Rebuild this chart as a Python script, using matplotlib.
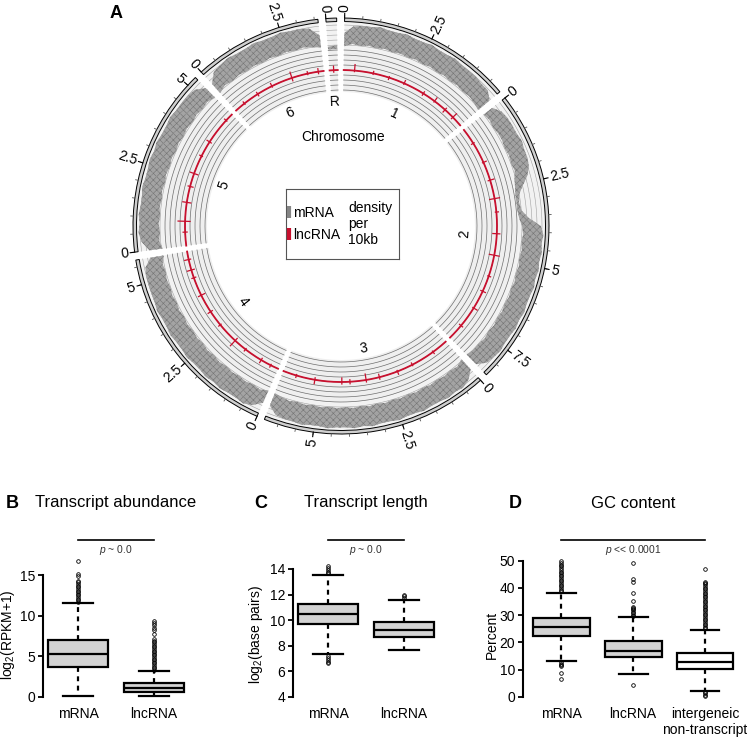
import numpy as np
import matplotlib.pyplot as plt
from matplotlib.lines import Line2D

plt.rcParams['font.family'] = ['Liberation Sans', 'DejaVu Sans']
plt.rcParams['mathtext.fontset'] = 'custom'
plt.rcParams['mathtext.rm'] = 'Liberation Sans'
plt.rcParams['mathtext.it'] = 'Liberation Sans:italic'
plt.rcParams['hatch.color'] = '#767676'
plt.rcParams['hatch.linewidth'] = 0.45

# ---------------- panel A: circos data ----------------
chrom_names = ['1', '2', '3', '4', '5', '6', 'R']
chrom_sizes = [4.9, 8.4, 6.4, 5.7, 5.3, 3.6, 0.3]   # Mb

# mRNA density envelope (0..1 of track height), bins along each chromosome
mrna_low = {
    '1': [0.1, 0.2, 0.15, 0.2, 0.15, 0.2, 0.15, 0.2, 0.15, 0.2, 0.15, 0.2, 0.15, 0.2, 0.15, 0.2, 0.15, 0.2, 0.15, 0.1],
    '2': [0.15, 0.2, 0.15, 0.2, 0.2, 0.15, 0.2, 0.15, 0.2, 0.1, 0.05, 0.0, 0.0, 0.0, 0.05, 0.15, 0.2, 0.15,
          0.2, 0.15, 0.2, 0.15, 0.2, 0.15, 0.2, 0.15, 0.2, 0.15, 0.2, 0.15, 0.2, 0.15, 0.15, 0.1],
    '3': [0.1, 0.2, 0.15, 0.2, 0.15, 0.2, 0.15, 0.2, 0.15, 0.2, 0.15, 0.2, 0.15, 0.2, 0.15, 0.2, 0.15, 0.2,
          0.15, 0.2, 0.15, 0.2, 0.15, 0.2, 0.15, 0.1],
    '4': [0.1, 0.2, 0.15, 0.2, 0.15, 0.2, 0.15, 0.2, 0.15, 0.2, 0.15, 0.2, 0.15, 0.2, 0.15, 0.2, 0.15, 0.2,
          0.15, 0.2, 0.15, 0.2, 0.1],
    '5': [0.1, 0.2, 0.15, 0.2, 0.15, 0.2, 0.15, 0.2, 0.15, 0.2, 0.15, 0.2, 0.15, 0.2, 0.15, 0.2, 0.15, 0.2,
          0.15, 0.2, 0.1],
    '6': [0.1, 0.2, 0.15, 0.2, 0.15, 0.2, 0.15, 0.2, 0.15, 0.2, 0.15, 0.2, 0.15, 0.1],
    'R': [0.0, 0.0],
}
mrna_high = {
    '1': [0.6, 0.85, 0.9, 0.9, 0.95, 0.9, 0.9, 0.95, 0.9, 0.9, 0.95, 0.9, 0.9, 0.95, 0.9, 0.9, 0.9, 0.85, 0.85, 0.65],
    '2': [0.55, 0.75, 0.8, 0.8, 0.8, 0.85, 0.8, 0.8, 0.75, 0.6, 0.35, 0.15, 0.1, 0.15, 0.4, 0.85, 0.95, 0.9,
          0.95, 0.9, 0.95, 0.9, 0.95, 0.9, 0.9, 0.95, 0.9, 0.95, 0.9, 0.9, 0.95, 0.9, 0.85, 0.6],
    '3': [0.6, 0.85, 0.95, 0.9, 0.95, 0.9, 0.9, 0.95, 0.9, 0.9, 0.95, 0.9, 0.9, 0.95, 0.9, 0.95, 0.9, 0.9,
          0.95, 0.9, 0.9, 0.95, 0.9, 0.9, 0.85, 0.6],
    '4': [0.6, 0.85, 0.95, 0.9, 0.9, 0.95, 0.9, 0.95, 0.9, 0.9, 0.95, 0.9, 0.9, 0.95, 0.9, 0.9, 0.95, 0.9,
          0.9, 0.9, 0.9, 0.85, 0.6],
    '5': [0.6, 0.85, 0.95, 0.9, 0.95, 0.9, 0.9, 0.95, 0.9, 0.9, 0.95, 0.9, 0.95, 0.9, 0.9, 0.95, 0.9, 0.9,
          0.9, 0.85, 0.6],
    '6': [0.55, 0.85, 0.9, 0.95, 0.9, 0.9, 0.95, 0.9, 0.9, 0.95, 0.9, 0.9, 0.85, 0.55],
    'R': [0.1, 0.15],
}

# lncRNA density: spikes (position Mb, inward px, outward px) on a flat line
lnc_spikes = {
    '1': [(0.4, 1, 6), (1.1, 1, 2), (1.7, 2, 1), (2.3, 1, 3), (3.1, 2, 2), (3.6, 1, 4), (4.1, 3, 2), (4.5, 2, 5)],
    '2': [(0.6, 2, 1), (1.4, 1, 3), (2.1, 2, 4), (2.8, 5, 5), (3.3, 1, 2), (4.1, 4, 3), (4.9, 5, 5), (5.7, 1, 2),
          (6.3, 2, 3), (7.0, 1, 4), (7.8, 2, 2)],
    '3': [(0.6, 1, 2), (1.5, 2, 1), (2.1, 1, 3), (2.8, 3, 2), (3.3, 6, 2), (3.9, 2, 2), (4.2, 4, 2), (5.2, 2, 4),
          (5.9, 1, 2)],
    '4': [(0.3, 1, 2), (0.7, 2, 3), (1.4, 1, 2), (1.9, 3, 7), (2.7, 1, 2), (3.3, 2, 3), (4.0, 4, 3), (4.7, 2, 2),
          (5.0, 3, 4), (5.4, 2, 4)],
    '5': [(0.5, 2, 2), (0.9, 5, 7), (1.6, 4, 4), (2.2, 3, 2), (2.7, 4, 4), (3.4, 1, 2), (4.0, 2, 3), (5.0, 1, 2)],
    '6': [(0.4, 1, 2), (1.0, 2, 2), (1.6, 1, 3), (2.4, 3, 6), (3.0, 1, 2), (3.4, 2, 3)],
    'R': [(0.15, 2, 4)],
}

# ---------------- panels B-D: box statistics ----------------
abund_labels = ['mRNA', 'lncRNA']
abund_stats = [
    dict(med=5.27, q1=3.7, q3=6.95, whislo=0.1, whishi=11.55,
         fliers=[11.7, 11.9, 12.1, 12.3, 12.5, 12.7, 12.9, 13.1, 13.3, 13.5, 13.7, 13.9, 14.1, 14.3, 14.9, 15.2, 16.7]),
    dict(med=1.03, q1=0.54, q3=1.65, whislo=0.12, whishi=3.17,
         fliers=[3.3, 3.5, 3.7, 3.9, 4.1, 4.3, 4.5, 4.7, 4.9, 5.1, 5.3, 5.5, 5.7, 5.9, 6.1, 6.3, 6.5, 6.7, 6.9, 7.1,
                 7.8, 8.2, 8.5, 8.8, 9.1, 9.35]),
]
length_labels = ['mRNA', 'lncRNA']
length_stats = [
    dict(med=10.5, q1=9.67, q3=11.26, whislo=7.34, whishi=13.53,
         fliers=[13.65, 13.8, 13.95, 14.1, 14.23, 7.2, 7.05, 6.9, 6.75, 6.6]),
    dict(med=9.25, q1=8.65, q3=9.85, whislo=7.63, whishi=11.57,
         fliers=[11.7, 11.85, 12.0]),
]
gc_labels = ['mRNA', 'lncRNA', 'intergeneic\nnon-transcript']
gc_stats = [
    dict(med=25.6, q1=22.4, q3=28.8, whislo=13.2, whishi=38.2,
         fliers=[38.8, 39.4, 40.0, 40.6, 41.2, 41.8, 42.4, 43.0, 43.6, 44.2, 44.8, 45.4, 46.0, 46.6, 47.2,
                 47.9, 48.6, 49.3, 49.9, 12.7, 12.2, 11.7, 11.3, 8.6, 6.6]),
    dict(med=16.9, q1=14.5, q3=20.5, whislo=8.5, whishi=29.2,
         fliers=[29.7, 30.2, 30.7, 31.2, 31.7, 32.2, 32.7, 33.1, 35.3, 38.2, 42.3, 43.2, 49.3, 4.4]),
    dict(med=12.9, q1=10.3, q3=16.2, whislo=2.0, whishi=24.5,
         fliers=[25.1, 25.7, 26.3, 26.9, 27.5, 28.1, 28.7, 29.3, 29.9, 30.5, 31.1, 31.7, 32.3, 32.9, 33.5, 34.1,
                 34.7, 35.3, 35.9, 36.5, 37.1, 37.7, 38.3, 38.9, 39.5, 40.1, 40.7, 41.3, 41.8, 42.3, 47.0,
                 1.6, 1.2, 0.8, 0.4]),
]

W, H = 747, 737
fig = plt.figure(figsize=(W / 100, H / 100), dpi=100)

# ---------------- circos (polar axes, radius in pixels) ----------------
cx, cy, half = 341, 226, 230
ax = fig.add_axes([(cx - half) / W, (H - cy - half) / H, 2 * half / W, 2 * half / H], projection='polar')
ax.set_theta_zero_location('N')
ax.set_theta_direction(-1)
ax.set_ylim(0, half)
ax.set_axis_off()

gap = 2.2
start = 1.0
deg_per_mb = (360 - gap * len(chrom_sizes)) / sum(chrom_sizes)
grey = '#858585'
red = '#c8102e'

lnc_in, lnc_out, lnc_base = 134, 177, 156
mr_in, mr_out = 177, 204
ideo_in, ideo_out = 204.5, 208

a0 = start
for name, size in zip(chrom_names, chrom_sizes):
    span = size * deg_per_mb
    a1 = a0 + span
    th = np.deg2rad(np.linspace(a0, a1, 200))
    thc = np.deg2rad((a0 + a1) / 2)
    w = np.deg2rad(span)
    # track backgrounds
    ax.bar(thc, lnc_out - lnc_in, width=w, bottom=lnc_in, color='#efefef', edgecolor='none')
    ax.bar(thc, mr_out - mr_in, width=w, bottom=mr_in, color='#f2f2f2', edgecolor='none')
    for r in np.arange(136, 177, 5):
        ax.plot(th, np.full_like(th, r), color='#6e6e6e', lw=0.5)
    for r in np.arange(181, 204, 5):
        ax.plot(th, np.full_like(th, r), color='#a0a0a0', lw=0.4)
    # mRNA density band (textured to read like the dense line plot)
    lo = mr_in + np.array(mrna_low[name]) * (mr_out - mr_in)
    hi = mr_in + np.array(mrna_high[name]) * (mr_out - mr_in)
    nb = len(lo)
    t_mid = np.deg2rad(a0 + np.linspace(0, size, nb) * deg_per_mb)
    ax.fill_between(t_mid, lo, hi, facecolor='#a4a4a4', hatch='xxxxx', lw=0)
    # lncRNA density
    ax.plot(th, np.full_like(th, lnc_base), color=red, lw=1.3)
    for p, dn, up in lnc_spikes[name]:
        t = np.deg2rad(a0 + p * deg_per_mb)
        ax.plot([t, t], [lnc_base - dn, lnc_base + up], color=red, lw=0.9)
    # ideogram
    ax.bar(thc, ideo_out - ideo_in, width=w, bottom=ideo_in, color='#cfcfcf', edgecolor='black', lw=0.7)
    # scale ticks
    for m in np.arange(0, size, 0.5):
        t = np.deg2rad(a0 + m * deg_per_mb)
        ax.plot([t, t], [ideo_out, ideo_out + 2.5], color='#555555', lw=0.6)
    for m in np.arange(0, size + 1e-9, 2.5):
        ang = a0 + m * deg_per_mb
        t = np.deg2rad(ang)
        ax.plot([t, t], [ideo_out, ideo_out + 4.5], color='black', lw=0.8)
        if ang % 360 < 180:
            rot, ha = 90 - ang, 'left'
        else:
            rot, ha = 270 - ang, 'right'
        ax.text(t, ideo_out + 6.5, f'{m:g}', rotation=rot, rotation_mode='anchor',
                ha=ha, va='center', fontsize=10)
    # chromosome name
    ac = (a0 + a1) / 2
    rot = -ac if (ac <= 90 or ac >= 270) else 180 - ac
    ax.text(thc, 124, name, rotation=rot, ha='center', va='center', fontsize=10)
    a0 = a1 + gap

fig.text(343.5 / W, 1 - 137 / H, 'Chromosome', ha='center', va='center', fontsize=10)
fig.text(116 / W, 1 - 14 / H, 'A', ha='center', va='center', fontsize=13, fontweight='bold')

# legend box
lax = fig.add_axes([286 / W, 1 - 259 / H, 113 / W, 70 / H])
lax.set_xticks([])
lax.set_yticks([])
for s in lax.spines.values():
    s.set_color('#555555')
    s.set_linewidth(0.8)
handles = [Line2D([], [], marker='|', ls='none', ms=9, mew=3, color=grey, label='mRNA'),
           Line2D([], [], marker='|', ls='none', ms=9, mew=3, color=red, label='lncRNA')]
lax.legend(handles=handles, loc='center left', bbox_to_anchor=(-0.07, 0.5), frameon=False,
           fontsize=10, handlelength=0.6, handletextpad=0.0, labelspacing=0.55, borderpad=0)
lax.text(0.55, 0.5, 'density\nper\n10kb', transform=lax.transAxes, ha='left', va='center',
         fontsize=10, linespacing=1.15)


# ---------------- box plots ----------------
def make_panel(left_px, right_px, centers_px, stats, labels, y0_px, px_per_unit, y0_val, spine_bounds,
               yticks, fill_colors, p_text, ylabel, ylabel_x):
    top_px, bottom_px = 555.8, 701.6
    bx = fig.add_axes([left_px / W, 1 - bottom_px / H, (right_px - left_px) / W, (bottom_px - top_px) / H])
    n = len(stats)
    pos = np.arange(1, n + 1)
    spacing = (centers_px[-1] - centers_px[0]) / (n - 1)
    bx.set_xlim(1 - (centers_px[0] - left_px) / spacing, 1 + (right_px - centers_px[0]) / spacing)
    bx.set_ylim(y0_val - (bottom_px - y0_px) / px_per_unit, y0_val + (y0_px - top_px) / px_per_unit)
    art = bx.bxp(stats, positions=pos, widths=0.79, capwidths=0.4, patch_artist=True,
                 boxprops=dict(edgecolor='black', linewidth=1.6),
                 medianprops=dict(color='black', linewidth=1.6),
                 whiskerprops=dict(color='black', linewidth=1.6, linestyle=(0, (2.2, 2.0))),
                 capprops=dict(color='black', linewidth=1.6),
                 flierprops=dict(marker='o', markersize=2.6, markerfacecolor='none',
                                 markeredgecolor='black', markeredgewidth=0.6))
    for patch, c in zip(art['boxes'], fill_colors):
        patch.set_facecolor(c)
    for s in ['top', 'right', 'bottom']:
        bx.spines[s].set_visible(False)
    bx.spines['left'].set_linewidth(1.5)
    bx.spines['left'].set_bounds(*spine_bounds)
    bx.set_yticks(yticks)
    bx.tick_params(axis='y', length=3.5, width=1.3, labelsize=10, pad=2)
    bx.set_xticks(pos)
    bx.set_xticklabels(labels, fontsize=10, linespacing=1.15)
    bx.tick_params(axis='x', length=0, pad=4)
    # significance bar
    sig_y = y0_val + (y0_px - 540) / px_per_unit
    bx.plot([1, n], [sig_y, sig_y], color='black', lw=1.2, clip_on=False)
    bx.text((1 + n) / 2, y0_val + (y0_px - 543) / px_per_unit, p_text, ha='center', va='top',
            fontsize=7.4, color='#333333')
    fig.text(ylabel_x / W, 1 - 635 / H, ylabel, rotation=90, ha='center', va='center', fontsize=10)
    return bx


make_panel(42.7, 190, [78.3, 154.0], abund_stats, abund_labels, 696.7, 8.1, 0, (0, 15),
           [0, 5, 10, 15], ['#d3d3d3', '#d3d3d3'], r'$\it{p}$ ~ 0.0', r'log$_2$(RPKM+1)', 8)
make_panel(292.7, 440, [328.3, 404.0], length_stats, length_labels, 696.7, 12.77, 4, (4, 14),
           [4, 6, 8, 10, 12, 14], ['#d3d3d3', '#d3d3d3'], r'$\it{p}$ ~ 0.0', r'log$_2$(base pairs)', 256)
make_panel(522.7, 743.5, [561.3, 632.5, 705.0], gc_stats, gc_labels, 696.7, 2.72, 0, (0, 50),
           [0, 10, 20, 30, 40, 50], ['#d3d3d3', '#d3d3d3', 'white'], r'$\it{p}$ << 0.0001', 'Percent', 492)

# panel titles
for letter, lx, title, tx in [('B', 12, 'Transcript abundance', 116),
                              ('C', 261, 'Transcript length', 366),
                              ('D', 515, 'GC content', 633)]:
    fig.text(lx / W, 1 - 503 / H, letter, ha='center', va='center', fontsize=13, fontweight='bold')
    fig.text(tx / W, 1 - 503 / H, title, ha='center', va='center', fontsize=12)

fig.savefig('out.png', dpi=100)
